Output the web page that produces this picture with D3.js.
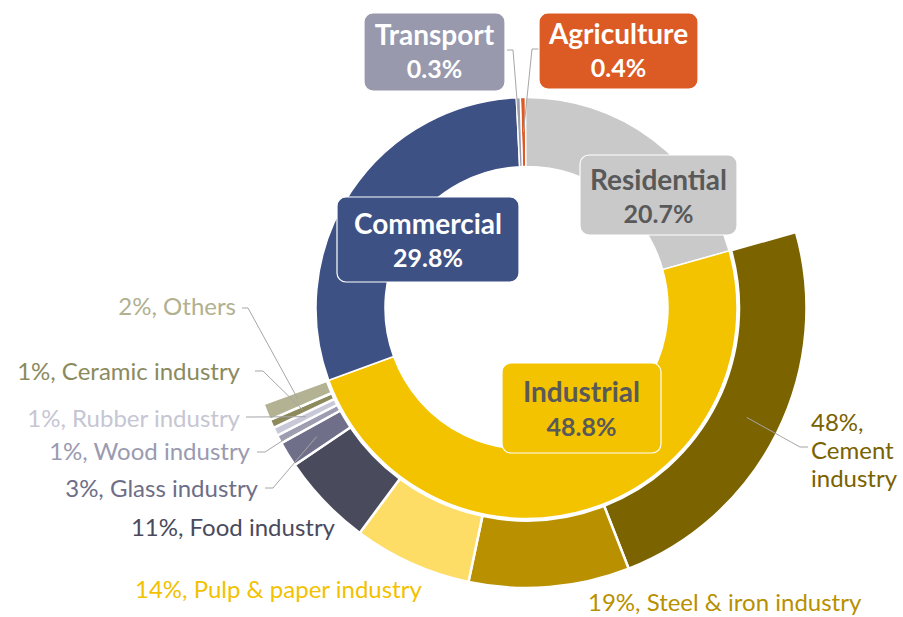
<!DOCTYPE html>
<html>
<head>
<meta charset="utf-8">
<script src="https://cdn.jsdelivr.net/npm/d3@7"></script>
<style>
  html, body { margin: 0; padding: 0; background: #ffffff; }
  svg { display: block; }
  text { font-family: Lato, "Open Sans", sans-serif; }
</style>
</head>
<body>
<svg id="chart" width="903" height="617"></svg>
<script>
// ---------- DATA ----------
const sectorCategories = ["Agriculture", "Residential", "Industrial", "Commercial", "Transport"];
const sectorValues     = [0.4, 20.7, 48.8, 29.8, 0.3];
const sectorValueLabels = ["0.4%", "20.7%", "48.8%", "29.8%", "0.3%"];

const industryCategories = ["Cement industry", "Steel & iron industry", "Pulp & paper industry",
  "Food industry", "Glass industry", "Wood industry", "Rubber industry", "Ceramic industry", "Others"];
const industryValues = [48, 19, 14, 11, 3, 1, 1, 1, 2];
const industryValueLabels = ["48%", "19%", "14%", "11%", "3%", "1%", "1%", "1%", "2%"];

// ---------- STYLE / LAYOUT ----------
const sectorColors = {
  "Agriculture": "#dc5a23", "Residential": "#c9c9c9", "Industrial": "#f4c300",
  "Commercial": "#3e5185", "Transport": "#9899ad"
};
const sectorTextColors = {
  "Agriculture": "#ffffff", "Residential": "#595959", "Industrial": "#595959",
  "Commercial": "#ffffff", "Transport": "#ffffff"
};
const industryColors = {
  "Cement industry": "#7b6300", "Steel & iron industry": "#b99100", "Pulp & paper industry": "#fddd66",
  "Food industry": "#494b5c", "Glass industry": "#6f6f8a", "Wood industry": "#9c9cb2",
  "Rubber industry": "#c8c8d8", "Ceramic industry": "#8d8b5e", "Others": "#b3b292"
};
const industryTextColors = {
  "Cement industry": "#7a6200", "Steel & iron industry": "#b89000", "Pulp & paper industry": "#f2c100",
  "Food industry": "#494b5c", "Glass industry": "#6e6e88", "Wood industry": "#9a9ab0",
  "Rubber industry": "#c6c6d3", "Ceramic industry": "#8b8a5e", "Others": "#b1b08f"
};

const cx = 526.5, cy = 308;
const rotation = -1.7 * Math.PI / 180;
const innerR0 = 141.5, innerR1 = 210.5;
const outerR0 = 212.5, outerR1 = 280;

// label boxes for sectors (x, y, w, h, line1 baseline, line2 baseline)
const sectorBoxes = {
  "Transport":   {x: 364, y: 13,  w: 141, h: 78, b1: 45,  b2: 78, anchor: [507, 50], elbow: [513, 50]},
  "Agriculture": {x: 539, y: 13,  w: 159, h: 76, b1: 44,  b2: 77, anchor: [539, 49], elbow: [532, 49]},
  "Residential": {x: 580, y: 155, w: 157, h: 80, b1: 190, b2: 223},
  "Commercial":  {x: 337, y: 197, w: 182, h: 85, b1: 234, b2: 267},
  "Industrial":  {x: 502, y: 363, w: 159, h: 90, b1: 402, b2: 436}
};
// outer labels: anchor x, baseline, text-anchor, leader-start, leader-elbow
const industryLabelLayout = {
  "Cement industry":       {lines: 3, x: 811, y: 431, anchor: "start", lead: [808, 447], elbow: [800, 447]},
  "Steel & iron industry": {x: 588, y: 611, anchor: "start"},
  "Pulp & paper industry": {x: 135, y: 598, anchor: "start"},
  "Food industry":         {x: 335, y: 536, anchor: "end"},
  "Glass industry":        {x: 258, y: 497, anchor: "end", lead: [265, 488], elbow: [273, 488]},
  "Wood industry":         {x: 250, y: 460, anchor: "end", lead: [257, 452], elbow: [265, 452]},
  "Rubber industry":       {x: 240, y: 427, anchor: "end", lead: [246, 417], elbow: [252, 417]},
  "Ceramic industry":      {x: 240, y: 380, anchor: "end", lead: [255, 371], elbow: [263, 371]},
  "Others":                {x: 236, y: 315, anchor: "end", lead: [242, 308], elbow: [248, 308]}
};

// ---------- CHART ----------
const svg = d3.select("#chart");
const g = svg.append("g").attr("transform", `translate(${cx},${cy})`);

const sectorData = sectorCategories.map((c, i) => ({cat: c, value: sectorValues[i], label: sectorValueLabels[i]}));
const industryData = industryCategories.map((c, i) => ({cat: c, value: industryValues[i], label: industryValueLabels[i]}));

const innerPie = d3.pie().sort(null).value(d => d.value)
  .startAngle(rotation).endAngle(rotation + 2 * Math.PI);
const innerArcs = innerPie(sectorData);
const innerArc = d3.arc().innerRadius(innerR0).outerRadius(innerR1);

const ind = innerArcs.find(a => a.data.cat === "Industrial");
const outerPie = d3.pie().sort(null).value(d => d.value)
  .startAngle(ind.startAngle).endAngle(ind.endAngle);
const outerArcs = outerPie(industryData);
const outerArc = d3.arc().innerRadius(outerR0).outerRadius(outerR1);
const outerCentroidArc = d3.arc().innerRadius(246).outerRadius(246);
const innerCentroidArc = d3.arc().innerRadius(176).outerRadius(176);

g.selectAll("path.inner").data(innerArcs).enter().append("path")
  .attr("class", "inner")
  .attr("d", innerArc)
  .attr("fill", d => sectorColors[d.data.cat])
  .attr("stroke", "#ffffff").attr("stroke-width", 1.5);

g.selectAll("path.outer").data(outerArcs).enter().append("path")
  .attr("class", "outer")
  .attr("d", outerArc)
  .attr("fill", d => industryColors[d.data.cat])
  .attr("stroke", "#ffffff").attr("stroke-width", 2.5);

// leader lines (outer)
const leaderColor = "#a6a6a6";
outerArcs.forEach(a => {
  const L = industryLabelLayout[a.data.cat];
  if (!L.lead) return;
  const c = outerCentroidArc.centroid(a);
  svg.append("polyline")
    .attr("points", [L.lead, L.elbow, [c[0] + cx, c[1] + cy]].map(p => p.join(",")).join(" "))
    .attr("fill", "none").attr("stroke", leaderColor).attr("stroke-width", 1);
});

// outer labels
outerArcs.forEach(a => {
  const L = industryLabelLayout[a.data.cat];
  const t = svg.append("text")
    .attr("x", L.x).attr("y", L.y)
    .attr("text-anchor", L.anchor)
    .attr("font-size", 24)
    .attr("fill", industryTextColors[a.data.cat]);
  if (L.lines === 3) {
    const parts = a.data.cat.split(" ");
    t.append("tspan").attr("x", L.x).attr("y", L.y).text(a.data.label + ",");
    t.append("tspan").attr("x", L.x).attr("y", L.y + 28).text(parts[0]);
    t.append("tspan").attr("x", L.x).attr("y", L.y + 56).text(parts[1]);
  } else {
    t.text(a.data.label + ", " + a.data.cat);
  }
});

// inner leader lines (Transport, Agriculture)
innerArcs.forEach(a => {
  const B = sectorBoxes[a.data.cat];
  if (!B.anchor) return;
  const c = innerCentroidArc.centroid(a);
  svg.append("polyline")
    .attr("points", [B.anchor, B.elbow, [c[0] + cx, c[1] + cy]].map(p => p.join(",")).join(" "))
    .attr("fill", "none").attr("stroke", leaderColor).attr("stroke-width", 1);
});

// inner label boxes
innerArcs.forEach(a => {
  const B = sectorBoxes[a.data.cat];
  svg.append("rect")
    .attr("x", B.x).attr("y", B.y).attr("width", B.w).attr("height", B.h)
    .attr("rx", 9).attr("ry", 9)
    .attr("fill", sectorColors[a.data.cat])
    .attr("stroke", "#ffffff").attr("stroke-width", 1.2);
  const mx = B.x + B.w / 2;
  svg.append("text").attr("x", mx).attr("y", B.b1).attr("text-anchor", "middle")
    .attr("font-size", 28).attr("font-weight", 700)
    .attr("fill", sectorTextColors[a.data.cat]).text(a.data.cat);
  svg.append("text").attr("x", mx).attr("y", B.b2).attr("text-anchor", "middle")
    .attr("font-size", 25).attr("font-weight", 700)
    .attr("fill", sectorTextColors[a.data.cat]).text(a.data.label);
});
</script>
</body>
</html>
